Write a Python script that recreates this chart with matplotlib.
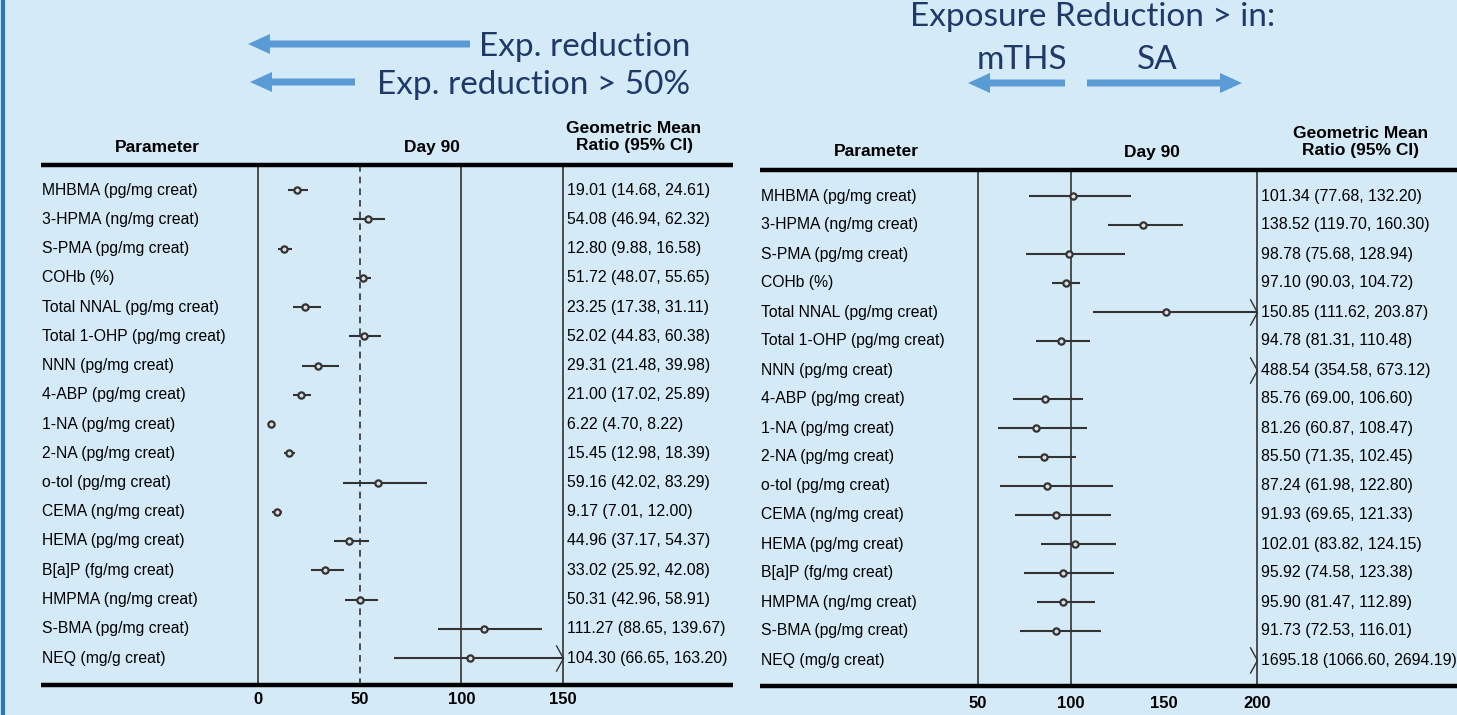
import matplotlib
matplotlib.use("Agg")
import matplotlib.pyplot as plt
from matplotlib.patches import FancyArrow

# ---- data ----
params = ["MHBMA (pg/mg creat)", "3-HPMA (ng/mg creat)", "S-PMA (pg/mg creat)",
          "COHb (%)", "Total NNAL (pg/mg creat)", "Total 1-OHP (pg/mg creat)",
          "NNN (pg/mg creat)", "4-ABP (pg/mg creat)", "1-NA (pg/mg creat)",
          "2-NA (pg/mg creat)", "o-tol (pg/mg creat)", "CEMA (ng/mg creat)",
          "HEMA (pg/mg creat)", "B[a]P (fg/mg creat)", "HMPMA (ng/mg creat)",
          "S-BMA (pg/mg creat)", "NEQ (mg/g creat)"]

left_gmr = [19.01, 54.08, 12.80, 51.72, 23.25, 52.02, 29.31, 21.00, 6.22,
            15.45, 59.16, 9.17, 44.96, 33.02, 50.31, 111.27, 104.30]
left_lo = [14.68, 46.94, 9.88, 48.07, 17.38, 44.83, 21.48, 17.02, 4.70,
           12.98, 42.02, 7.01, 37.17, 25.92, 42.96, 88.65, 66.65]
left_hi = [24.61, 62.32, 16.58, 55.65, 31.11, 60.38, 39.98, 25.89, 8.22,
           18.39, 83.29, 12.00, 54.37, 42.08, 58.91, 139.67, 163.20]

right_gmr = [101.34, 138.52, 98.78, 97.10, 150.85, 94.78, 488.54, 85.76, 81.26,
             85.50, 87.24, 91.93, 102.01, 95.92, 95.90, 91.73, 1695.18]
right_lo = [77.68, 119.70, 75.68, 90.03, 111.62, 81.31, 354.58, 69.00, 60.87,
            71.35, 61.98, 69.65, 83.82, 74.58, 81.47, 72.53, 1066.60]
right_hi = [132.20, 160.30, 128.94, 104.72, 203.87, 110.48, 673.12, 106.60, 108.47,
            102.45, 122.80, 121.33, 124.15, 123.38, 112.89, 116.01, 2694.19]

left_ticks = [0, 50, 100, 150]
right_ticks = [50, 100, 150, 200]

W, H = 1457, 715
BG = "#D4EAF7"
NAVY = "#1F3A68"
ARROW = "#5B9BD5"
INK = "#333333"
TFONT = ["Liberation Sans Narrow", "Liberation Sans", "DejaVu Sans"]
HFONT = ["Lato", "DejaVu Sans"]

fig = plt.figure(figsize=(W / 100, H / 100), dpi=100)
fig.patch.set_facecolor(BG)

# left border of the slide
bord = fig.add_axes([0, 0, 1, 1], facecolor="none")
bord.set_xlim(0, W)
bord.set_ylim(H, 0)
bord.axis("off")
bord.plot([3, 3], [0, H], color="#2E75B6", lw=3)


def forest(box, x_px, y_px, vis_min, vis_max, vlines, dashed, gmr, lo, hi, ticks,
           ci_px, head_y, line_y, tick_y, col_x):
    x0, y0, x1, y1 = box
    (xa, va), (xb, vb) = x_px
    ppu = (xb - xa) / (vb - va)
    r0, step = y_px

    def dx(px):
        return va + (px - xa) / ppu

    def dy(py):
        return (py - r0) / step

    ax = fig.add_axes([x0 / W, 1 - y1 / H, (x1 - x0) / W, (y1 - y0) / H])
    ax.set_facecolor("white")
    ax.set_xlim(dx(x0), dx(x1))
    ax.set_ylim(dy(y1), dy(y0))
    ax.axis("off")
    ax.patch.set_visible(True)

    top, bot = dy(line_y[0]), dy(line_y[1])
    ax.vlines(vlines, top, bot, color=INK, lw=1.2)
    if dashed is not None:
        ax.vlines(dashed, top, bot, color=INK, lw=1.2, linestyles=(0, (4, 3)))
    ax.hlines([top, bot], dx(x0 + 3), dx(x1), color="black", lw=3.2)

    for i, (g, a, b) in enumerate(zip(gmr, lo, hi)):
        if a < vis_max:
            ax.plot([max(a, vis_min), min(b, vis_max)], [i, i], color=INK, lw=1.5,
                    solid_capstyle="butt")
        if g <= vis_max:
            ax.plot(g, i, "o", ms=4.5, mfc="#dddddd", mec=INK, mew=1.6)
        if b > vis_max:
            ax.plot(vis_max, i, marker=[(-0.55, 1), (0, 0), (-0.55, -1)], ms=19,
                    mfc="none", mec=INK, mew=1.0, clip_on=False)
        ax.text(dx(col_x[0]), i, params[i], ha="left", va="center",
                fontsize=11.3, family=TFONT, color="black")
        ax.text(dx(ci_px), i, f"{g:.2f} ({a:.2f}, {b:.2f})", ha="left", va="center",
                fontsize=11.4, family=TFONT, color="black")

    for t in ticks:
        ax.text(t, dy(tick_y), str(t), ha="center", va="center", fontsize=12,
                family=TFONT, weight="bold")

    ax.text(dx(col_x[1]), dy(head_y), "Parameter", ha="center", va="center",
            fontsize=12.5, family=TFONT, weight="bold")
    ax.text(dx(col_x[2]), dy(head_y), "Day 90", ha="center", va="center",
            fontsize=12.5, family=TFONT, weight="bold")
    ax.text(dx(col_x[3]), dy(head_y - 10), "Geometric Mean\nRatio (95% CI)",
            ha="center", va="center", fontsize=12.5, family=TFONT, weight="bold",
            linespacing=1.1)
    return ax


forest(box=(38, 115, 733, 715), x_px=((258, 0), (563, 150)), y_px=(190, 29.25),
       vis_min=0, vis_max=150, vlines=[0, 100, 150], dashed=50,
       gmr=left_gmr, lo=left_lo, hi=left_hi, ticks=left_ticks, ci_px=567,
       head_y=147, line_y=(165, 685), tick_y=700, col_x=(42, 157, 432, 634))

forest(box=(757, 113, 1457, 715), x_px=((978, 50), (1257, 200)), y_px=(196, 29.0),
       vis_min=50, vis_max=200, vlines=[50, 100, 200], dashed=None,
       gmr=right_gmr, lo=right_lo, hi=right_hi, ticks=right_ticks, ci_px=1261,
       head_y=152, line_y=(170, 686), tick_y=703, col_x=(761, 876, 1152, 1361))

# ---- header annotations ----
def arrow(x_tail, x_head, y, width=7, head_w=20, head_l=22):
    bord.add_patch(FancyArrow(x_tail, y, x_head - x_tail, 0, width=width,
                              head_width=head_w, head_length=head_l,
                              length_includes_head=True, color=ARROW, lw=0))


bord.text(690, 47, "Exp. reduction", ha="right", va="center", fontsize=24,
          family=HFONT, color=NAVY)
bord.text(690, 85, "Exp. reduction > 50%", ha="right", va="center", fontsize=24,
          family=HFONT, color=NAVY)
arrow(470, 248, 44)
arrow(355, 250, 82)

bord.text(1093, 17, "Exposure Reduction > in:", ha="center", va="center",
          fontsize=24, family=HFONT, color=NAVY)
bord.text(1022, 60, "mTHS", ha="center", va="center", fontsize=24,
          family=HFONT, color=NAVY)
bord.text(1157, 60, "SA", ha="center", va="center", fontsize=24,
          family=HFONT, color=NAVY)
arrow(1065, 968, 83)
arrow(1087, 1242, 83)

fig.savefig("out.png", dpi=100, facecolor=BG)
